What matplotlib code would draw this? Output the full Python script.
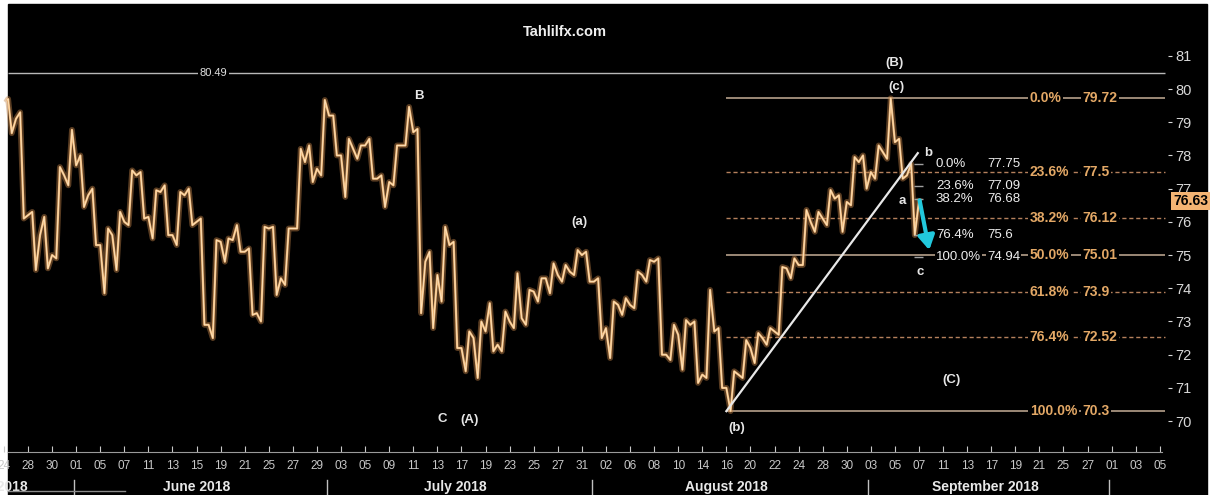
import numpy as np
import pandas as pd
import matplotlib
matplotlib.use("Agg")
import matplotlib.pyplot as plt
import matplotlib.transforms as mtransforms
from matplotlib.patches import Rectangle

# daily bars on a business-day axis, day 0 = 2018-05-28 (first bar is 2018-05-24)
first_day = -2
bar_open = [79.67, 79.10, 76.20, 75.60, 75.00, 77.40, 77.70, 76.80, 75.30, 75.60,
            76.00, 77.40, 76.15, 76.90, 75.60, 76.80, 76.00, 72.90, 75.40, 75.45,
            75.10, 73.25, 75.80, 74.30, 75.80, 77.80, 77.60, 79.20, 78.00, 78.20,
            78.30, 77.30, 77.20, 78.30, 78.70, 74.80, 74.40, 75.30, 72.20, 72.50,
            72.70, 72.30, 73.00, 73.10, 73.90, 74.30, 74.40, 74.50, 75.00, 74.20,
            72.80, 73.50, 73.50, 74.40, 74.80, 72.00, 72.60, 72.90, 71.40, 72.70,
            71.00, 71.40, 72.20, 72.50, 72.70, 74.60, 74.70, 76.00, 76.10, 76.70,
            76.60, 77.80, 77.50, 78.10, 78.40, 77.40]
bar_high = [79.70, 79.30, 76.30, 76.15, 77.65, 78.77, 78.00, 77.00, 75.80, 76.30,
            77.55, 77.50, 76.95, 77.10, 76.90, 77.00, 76.10, 75.45, 75.50, 75.90,
            75.20, 75.85, 75.85, 75.80, 78.20, 78.30, 79.67, 79.20, 78.50, 78.30,
            78.50, 77.40, 78.30, 79.46, 78.80, 75.10, 75.85, 75.40, 72.70, 73.00,
            73.55, 73.30, 74.45, 73.95, 74.30, 74.75, 74.70, 75.15, 75.10, 74.30,
            73.60, 73.70, 74.50, 74.85, 74.90, 72.90, 73.04, 73.00, 73.95, 72.80,
            71.50, 72.44, 72.65, 72.80, 74.64, 74.90, 76.36, 76.30, 76.96, 76.80,
            77.95, 78.00, 78.30, 79.72, 78.50, 77.75]
bar_low = [78.67, 76.10, 74.55, 74.60, 74.90, 77.10, 76.45, 75.30, 73.85, 74.55,
           75.90, 76.10, 75.50, 75.60, 75.30, 75.90, 72.90, 72.50, 74.80, 75.10,
           73.20, 73.00, 73.80, 74.10, 75.80, 77.20, 77.40, 78.00, 76.75, 77.90,
           77.30, 76.45, 77.10, 78.30, 73.25, 72.80, 73.60, 72.20, 71.50, 71.30,
           72.10, 72.10, 72.80, 72.90, 73.60, 73.85, 74.20, 74.40, 74.20, 72.50,
           71.90, 73.20, 73.40, 74.20, 72.00, 71.84, 71.55, 71.15, 71.30, 71.00,
           70.30, 71.30, 71.75, 72.30, 72.60, 74.30, 74.70, 75.70, 75.90, 75.70,
           76.50, 77.00, 77.30, 77.90, 77.30, 75.60]
bar_close = [79.10, 76.20, 75.60, 75.00, 77.40, 77.70, 76.80, 75.30, 75.60, 76.00,
             77.40, 76.15, 76.90, 75.60, 76.80, 76.00, 72.90, 75.40, 75.45, 75.10,
             73.25, 75.80, 74.30, 75.80, 77.80, 77.60, 79.20, 78.00, 78.20, 78.30,
             77.30, 77.20, 78.30, 78.70, 74.80, 74.40, 75.30, 72.20, 72.50, 72.70,
             72.30, 73.00, 73.10, 73.90, 74.30, 74.40, 74.50, 75.00, 74.20, 72.80,
             73.50, 73.50, 74.40, 74.80, 72.00, 72.60, 72.90, 71.40, 72.70, 71.00,
             71.40, 72.20, 72.50, 72.70, 74.60, 74.70, 76.00, 76.10, 76.70, 76.60,
             77.80, 77.50, 78.10, 78.40, 77.40, 76.63]

# fibonacci retracement of the (b)-(c) leg
fib_pct = ["0.0%", "23.6%", "38.2%", "50.0%", "61.8%", "76.4%", "100.0%"]
fib_level = [79.72, 77.5, 76.12, 75.01, 73.9, 72.52, 70.3]
fib_text = ["79.72", "77.5", "76.12", "75.01", "73.9", "72.52", "70.3"]
fib_start_day = 58

# short retracement of the last swing
small_pct = ["0.0%", "23.6%", "38.2%", "76.4%", "100.0%"]
small_level = [77.75, 77.09, 76.68, 75.6, 74.94]
small_text = ["77.75", "77.09", "76.68", "75.6", "74.94"]

prior_high = 80.49
last_price = 76.63

trend_day = [58.0, 73.9]
trend_price = [70.3, 78.07]
arrow_day = [74.05, 74.85]
arrow_price = [76.65, 75.15]

wave_text = ["(B)", "(c)", "B", "(a)", "C", "(A)", "(b)", "(C)", "b", "a", "c"]
wave_day = [72.0, 72.1, 32.5, 45.8, 34.4, 36.7, 58.9, 76.7, 74.75, 72.6, 74.1]
wave_price = [80.78, 80.06, 79.79, 75.99, 70.06, 70.03, 69.79, 71.23, 78.07, 76.63, 74.49]

y_ticks = list(range(70, 82))

dates = pd.bdate_range("2018-05-24", "2018-10-05")
day_pos = np.arange(len(dates)) + first_day

FONT = ["Liberation Sans", "DejaVu Sans"]
plt.rcParams["font.family"] = FONT

fig = plt.figure(figsize=(12.12, 4.95), dpi=100, facecolor="white")
fig.patches.append(Rectangle((8 / 1212, 0), 1199 / 1212, 491 / 495,
                             transform=fig.transFigure, color="black", zorder=-10))
ax = fig.add_axes([0, 43 / 495, 1168 / 1212, 447 / 495])
ax.set_facecolor("none")
ax.set_xlim(-2.326, 94.68)
ax.set_ylim(69.07, 82.53)

# price path: open -> extremes -> close for every day
xs = [first_day + 0.3]
ys = [bar_open[0]]
for k in range(len(bar_close)):
    d = first_day + k
    if bar_close[k] >= bar_open[k]:
        mid = [bar_low[k], bar_high[k]]
    else:
        mid = [bar_high[k], bar_low[k]]
    xs += [d + 0.35, d + 0.65, d + 1.0]
    ys += mid + [bar_close[k]]
ax.plot(xs, ys, color="#c4854a", lw=4.2, alpha=0.45, zorder=3)
ax.plot(xs, ys, color="#eeb677", lw=1.6, zorder=4)
ax.plot(xs, ys, color="#fde3bd", lw=0.6, zorder=4)

# prior high line
ax.hlines(prior_high, -1.7, 94.4, color="#b8b8b8", lw=1.0, zorder=2)
ax.text(15.4, prior_high, "80.49", color="#e0e0e0", fontsize=8, ha="center", va="center",
        bbox=dict(facecolor="black", edgecolor="none", pad=1.5), zorder=5)

# big fib levels
for pct, lvl, txt in zip(fib_pct, fib_level, fib_text):
    solid = pct in ("0.0%", "50.0%", "100.0%")
    ax.hlines(lvl, fib_start_day, 94.4, color="#a89480" if solid else "#b5805c",
              lw=1.3 if solid else 1.0, linestyles="-" if solid else (0, (3, 2)), zorder=2)
    ax.text(83.2, lvl, pct, color="#e3a866", fontsize=10, fontweight="bold",
            ha="left", va="center", bbox=dict(facecolor="black", edgecolor="none", pad=1), zorder=5)
    ax.text(87.6, lvl, txt, color="#e3a866", fontsize=10, fontweight="bold",
            ha="left", va="center", bbox=dict(facecolor="black", edgecolor="none", pad=1), zorder=5)

# small fib levels
for pct, lvl, txt in zip(small_pct, small_level, small_text):
    ax.hlines(lvl, 73.6, 74.3, color="#a0a0a0", lw=1.0, zorder=4)
    ax.text(75.4, lvl, pct, color="#eeeeee", fontsize=9.5, ha="left", va="center",
            bbox=dict(facecolor="black", edgecolor="none", pad=0.8), zorder=5)
    ax.text(79.65, lvl, txt, color="#eeeeee", fontsize=9.5, ha="left", va="center",
            bbox=dict(facecolor="black", edgecolor="none", pad=0.8), zorder=5)

# trend line and projection arrow
ax.plot(trend_day, trend_price, color="#e8e8e8", lw=1.6, zorder=5)
ax.annotate("", xy=(arrow_day[1], arrow_price[1]), xytext=(arrow_day[0], arrow_price[0]),
            arrowprops=dict(arrowstyle="-|>,head_length=0.6,head_width=0.35", color="#22c8dc",
                            lw=3, mutation_scale=14, shrinkA=0, shrinkB=0),
            zorder=6)

# wave labels
for t, d, p in zip(wave_text, wave_day, wave_price):
    ax.text(d, p, t, color="#e6e6e6", fontsize=9.5, fontweight="bold",
            ha="center", va="center", zorder=6)

ax.text(44.6, 81.72, "Tahlilfx.com", color="#f0f0f0", fontsize=10.5, fontweight="bold",
        ha="center", va="center")

# last price tag
ax.text(95.1, last_price, f"{last_price:.2f}", color="black", fontsize=10, fontweight="bold",
        ha="left", va="center", clip_on=False,
        bbox=dict(facecolor="#f4b473", edgecolor="none", pad=1.2), zorder=7)

# axes styling
for s in ["left", "top", "right"]:
    ax.spines[s].set_visible(False)
ax.spines["bottom"].set_color("#9a9a9a")
ax.spines["bottom"].set_linestyle((0, (2, 1)))
ax.spines["bottom"].set_bounds(-1.7, 94.2)

ax.yaxis.tick_right()
ax.set_yticks(y_ticks)
ax.set_yticklabels([str(v) for v in y_ticks])
ax.tick_params(axis="y", colors="#d8d8d8", labelsize=10.5, length=3, pad=2, direction="out")

even = day_pos % 2 == 0
ax.set_xticks(day_pos[even])
ax.set_xticklabels([f"{d.day:02d}" for d in dates[even]])
ax.tick_params(axis="x", colors="#c8c8c8", labelsize=8.5, length=4, direction="in", pad=6)

# month row
trans = mtransforms.blended_transform_factory(ax.transData, ax.transAxes)
months = pd.Series(day_pos, index=dates).groupby(dates.to_period("M"))
for per, grp in months:
    if per.month == 5:
        center = -2.6
    else:
        ax.plot([grp.iloc[0] - 0.2] * 2, [-0.062, -0.1], color="#c0c0c0", lw=1,
                transform=trans, clip_on=False)
        if per.month == 10:
            continue
        center = (grp.iloc[0] + grp.iloc[-1]) / 2
    ax.text(center, -0.078, per.strftime("%B %Y"), color="#e8e8e8", fontsize=10,
            fontweight="bold", ha="center", va="center", transform=trans, clip_on=False)

fig.lines.append(plt.Line2D([8 / 1212, 125 / 1212], [4 / 495, 4 / 495],
                            transform=fig.transFigure, color="#8a8a8a", lw=1))

fig.savefig("out.png", dpi=100, facecolor=fig.get_facecolor())
